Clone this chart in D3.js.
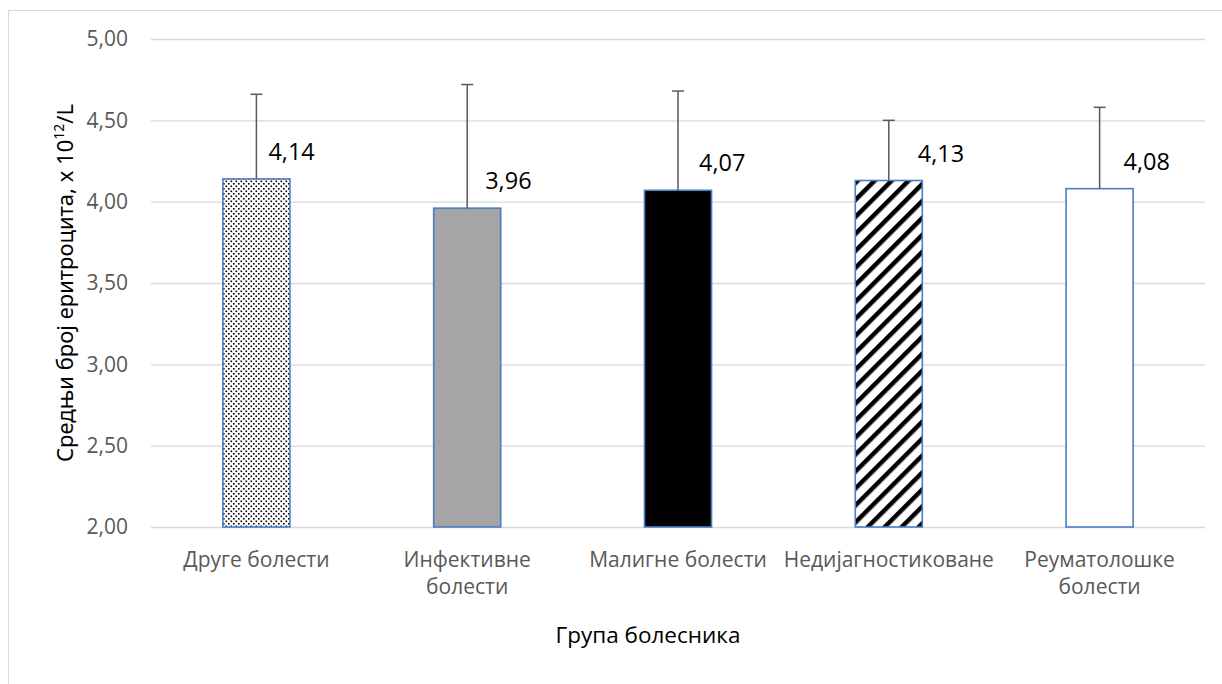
<!DOCTYPE html>
<html>
<head>
<meta charset="utf-8">
<script src="https://cdn.jsdelivr.net/npm/d3@7"></script>
<style>
  html, body { margin: 0; padding: 0; background: #fff; }
  svg { display: block; }
</style>
</head>
<body>
<svg id="chart" width="1222" height="684"></svg>
<script>
// ---- data ----
const categories = ["Друге болести", "Инфективне болести", "Малигне болести", "Недијагностиковане", "Реуматолошке болести"];
const means = [4.14, 3.96, 4.07, 4.13, 4.08];
const errorTops = [4.66, 4.72, 4.68, 4.50, 4.58];
const valueLabels = ["4,14", "3,96", "4,07", "4,13", "4,08"];
const yTicks = [2.0, 2.5, 3.0, 3.5, 4.0, 4.5, 5.0];
const yTickLabels = ["2,00", "2,50", "3,00", "3,50", "4,00", "4,50", "5,00"];
const xTitle = "Група болесника";
const yTitleMain = "Средњи број еритроцита, x 10";
const yTitleSup = "12";
const yTitleEnd = "/L";

// ---- presentation ----
const fills = ["url(#dots)", "#A5A5A5", "#000000", "url(#stripes)", "#FFFFFF"];
const labelDx = [12, 18, 21, 29, 24];
const fontFam = "'Open Sans', 'Noto Sans', sans-serif";

const svg = d3.select("#chart");
const defs = svg.append("defs");

const dots = defs.append("pattern").attr("id", "dots").attr("patternUnits", "userSpaceOnUse")
  .attr("width", 5).attr("height", 5);
dots.append("rect").attr("width", 5).attr("height", 5).attr("fill", "#fff");
dots.append("rect").attr("x", 0.5).attr("y", 0.5).attr("width", 1.6).attr("height", 1.6).attr("fill", "#000");
dots.append("rect").attr("x", 3).attr("y", 3).attr("width", 1.6).attr("height", 1.6).attr("fill", "#000");

const stripes = defs.append("pattern").attr("id", "stripes").attr("patternUnits", "userSpaceOnUse")
  .attr("width", 12).attr("height", 12).attr("patternTransform", "rotate(45)");
stripes.append("rect").attr("width", 12).attr("height", 12).attr("fill", "#fff");
stripes.append("rect").attr("x", 0).attr("y", 0).attr("width", 4.5).attr("height", 12).attr("fill", "#000");

// outer chart border
svg.append("rect").attr("x", 8.5).attr("y", 10.5).attr("width", 1240).attr("height", 700)
  .attr("fill", "none").attr("stroke", "#D9D9D9").attr("stroke-width", 1);

const y = d3.scaleLinear().domain([2, 5]).range([527, 39]);
const x = d3.scaleBand().domain(categories).range([151, 1205])
  .paddingInner(0.682).paddingOuter(0.341);

// gridlines via axis
const yAxis = d3.axisLeft(y).tickValues(yTicks).tickSize(-(1205 - 151))
  .tickFormat((d, i) => yTickLabels[i]).tickPadding(23);
const gy = svg.append("g").attr("transform", "translate(151,0)").call(yAxis);
gy.select(".domain").remove();
gy.selectAll(".tick line").attr("stroke", "#D9D9D9").attr("stroke-width", 1.3);
gy.selectAll(".tick text").attr("fill", "#595959").style("font-family", fontFam).style("font-size", "21px");

// bars
svg.append("g").selectAll("rect").data(categories).join("rect")
  .attr("x", d => x(d)).attr("width", x.bandwidth())
  .attr("y", (d, i) => y(means[i])).attr("height", (d, i) => y(2) - y(means[i]))
  .attr("fill", (d, i) => fills[i])
  .attr("stroke", "#4A7EC4").attr("stroke-width", 1.6);

// error bars
const eg = svg.append("g").attr("stroke", "#595959").attr("stroke-width", 1.5);
eg.selectAll("line.v").data(categories).join("line").attr("class", "v")
  .attr("x1", d => x(d) + x.bandwidth() / 2).attr("x2", d => x(d) + x.bandwidth() / 2)
  .attr("y1", (d, i) => y(means[i])).attr("y2", (d, i) => y(errorTops[i]));
eg.selectAll("line.c").data(categories).join("line").attr("class", "c")
  .attr("x1", d => x(d) + x.bandwidth() / 2 - 6).attr("x2", d => x(d) + x.bandwidth() / 2 + 6)
  .attr("y1", (d, i) => y(errorTops[i])).attr("y2", (d, i) => y(errorTops[i]));

// value labels
svg.append("g").selectAll("text").data(categories).join("text")
  .attr("x", (d, i) => x(d) + x.bandwidth() / 2 + labelDx[i])
  .attr("y", (d, i) => y(means[i]) - 19)
  .attr("fill", "#000").style("font-family", fontFam).style("font-size", "23.5px")
  .text((d, i) => valueLabels[i]);

// x axis category labels
const xAxis = d3.axisBottom(x).tickSize(0).tickPadding(0);
const gx = svg.append("g").attr("transform", "translate(0,527)").call(xAxis);
gx.select(".domain").remove();
gx.selectAll(".tick text").attr("fill", "#595959").style("font-family", fontFam).style("font-size", "21px")
  .attr("dy", null).attr("y", 0)
  .each(function (d) {
    const t = d3.select(this);
    t.text(null);
    const probe = t.append("tspan").text(d);
    const w = probe.node().getComputedTextLength();
    if (w > 195) {
      probe.remove();
      const words = d.split(" ");
      words.forEach((wd, k) => {
        t.append("tspan").attr("x", 0).attr("y", 40 + k * 27).text(wd);
      });
    } else {
      probe.attr("x", 0).attr("y", 40);
    }
  });

// axis titles
svg.append("text").attr("x", 648).attr("y", 643).attr("text-anchor", "middle")
  .attr("fill", "#000").style("font-family", fontFam).style("font-size", "22.5px").text(xTitle);

const yt = svg.append("text").attr("transform", "translate(73,283) rotate(-90)")
  .attr("text-anchor", "middle").attr("fill", "#000")
  .style("font-family", "'Noto Sans', sans-serif").style("font-size", "22px");
yt.append("tspan").text(yTitleMain);
yt.append("tspan").attr("dy", -9).style("font-size", "14px").text(yTitleSup);
yt.append("tspan").attr("dy", 9).text(yTitleEnd);
</script>
</body>
</html>
